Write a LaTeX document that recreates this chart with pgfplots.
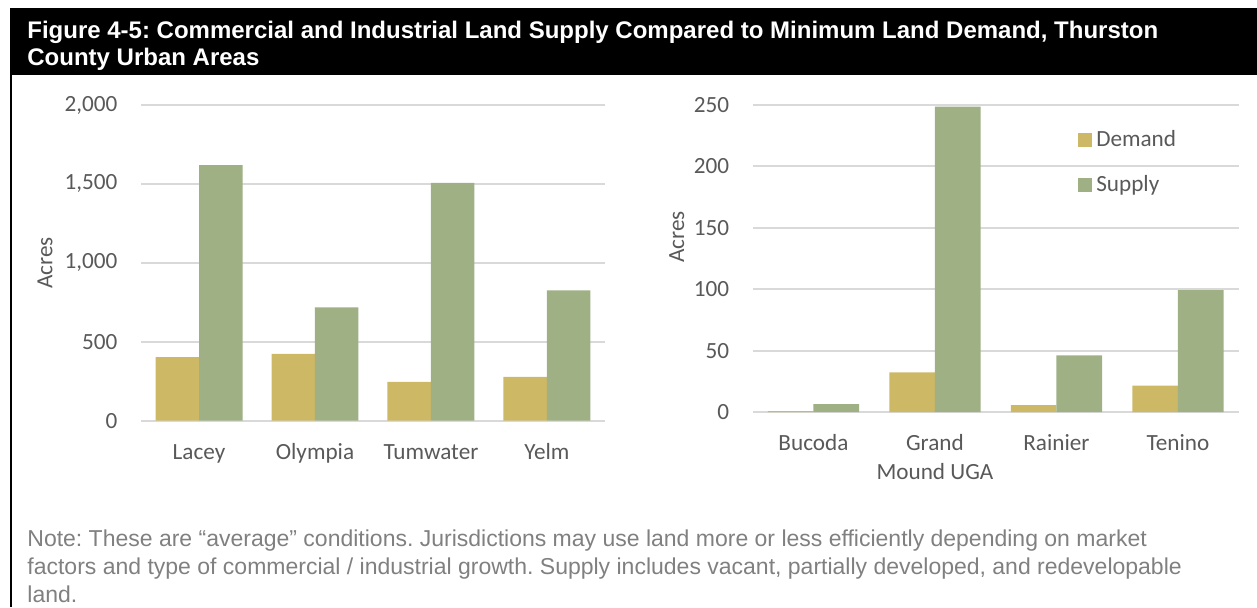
\documentclass[border=0pt]{standalone}
\usepackage{fontspec}
\setmainfont{Liberation Sans}
\newfontfamily\calfont{Carlito}
\usepackage{pgfplots}
\pgfplotsset{compat=1.18}

\definecolor{demandc}{RGB}{205,184,101}
\definecolor{supplyc}{RGB}{158,176,132}
\definecolor{gridc}{RGB}{217,217,217}
\definecolor{tickc}{RGB}{89,89,89}
\definecolor{notec}{RGB}{128,128,128}

\newcommand{\chartfont}{\calfont\fontsize{11.6}{14.5}\selectfont}

\pgfplotsset{
  landbars/.style={
    scale only axis,
    ybar=0pt, bar width=0.375,
    xmin=-0.5, xmax=3.5, ymin=0,
    xtick={0,1,2,3},
    axis line style={draw=none},
    major tick length=0pt,
    ymajorgrids, grid style={line width=1pt, gridc},
    tick label style={font=\chartfont, text=tickc},
    yticklabel style={inner sep=0pt, xshift=-11.6pt,
      /pgf/number format/1000 sep={,},
      /pgf/number format/assume math mode=true},
    xticklabel style={inner sep=0pt, yshift=-11pt, align=center},
    label style={font=\chartfont, text=tickc},
    ylabel={Acres},
  },
  sq/.style={legend image code/.code={\fill[#1] (0pt,-3.5pt) rectangle (7pt,3.5pt);}},
}

\begin{document}
\frenchspacing
\begin{tikzpicture}
\path[use as bounding box] (0,0) rectangle (628.5pt,-303.5pt);

% header bar and left rule
\fill[black] (5pt,-4.2pt) rectangle (628.5pt,-37.5pt);
\fill[black] (5pt,-4.2pt) rectangle (6.1pt,-303.5pt);
\node[anchor=base west, inner sep=0pt, text=white, font=\bfseries\fontsize{12}{14}\selectfont]
  at (13.5pt,-19.2pt) {Figure 4-5: Commercial and Industrial Land Supply Compared to Minimum Land Demand, Thurston};
\node[anchor=base west, inner sep=0pt, text=white, font=\bfseries\fontsize{12}{14}\selectfont]
  at (13.5pt,-32.7pt) {County Urban Areas};

% left chart
\begin{axis}[landbars,
  at={(70.5pt,-210.3pt)}, anchor=south west,
  width=232pt, height=157.8pt,
  ymax=2000, ytick={0,500,1000,1500,2000},
  xticklabels={Lacey,Olympia,Tumwater,Yelm},
  xticklabel style={text height=8pt, text depth=2.5pt},
  ylabel style={at={(axis description cs:-0.207,0.5)}, anchor=center},
]
\addplot[fill=demandc, draw=none, sq] coordinates {(0,402) (1,423) (2,245) (3,277)};
\addplot[fill=supplyc, draw=none, sq] coordinates {(0,1619) (1,717) (2,1507) (3,825)};
\end{axis}

% right chart
\begin{axis}[landbars,
  at={(376.35pt,-206pt)}, anchor=south west,
  width=243pt, height=153.5pt,
  ymax=250, ytick={0,50,100,150,200,250},
  xticklabels={Bucoda,{Grand\\Mound UGA},Rainier,Tenino},
  ylabel style={at={(axis description cs:-0.156,0.57)}, anchor=center},
  legend style={draw=none, fill=none, at={(rel axis cs:0.669,0.931)},
    anchor=north west, inner sep=0pt, row sep=8.7pt,
    font=\chartfont, text=tickc},
  legend cell align=left,
]
\addplot[fill=demandc, draw=none, sq] coordinates {(0,0.8) (1,32.3) (2,5.7) (3,21.5)};
\addplot[fill=supplyc, draw=none, sq] coordinates {(0,6.5) (1,248.6) (2,46.2) (3,99.2)};
\legend{Demand,Supply}
\end{axis}

% note
\begin{scope}[every node/.style={anchor=base west, inner sep=0pt, text=notec, font=\fontsize{11.5}{14}\selectfont}]
\node at (13.5pt,-273pt) {Note: These are “average” conditions. Jurisdictions may use land more or less efficiently depending on market};
\node at (13.5pt,-287pt) {factors and type of commercial / industrial growth. Supply includes vacant, partially developed, and redevelopable};
\node at (13.5pt,-301pt) {land.};
\end{scope}
\end{tikzpicture}
\end{document}
